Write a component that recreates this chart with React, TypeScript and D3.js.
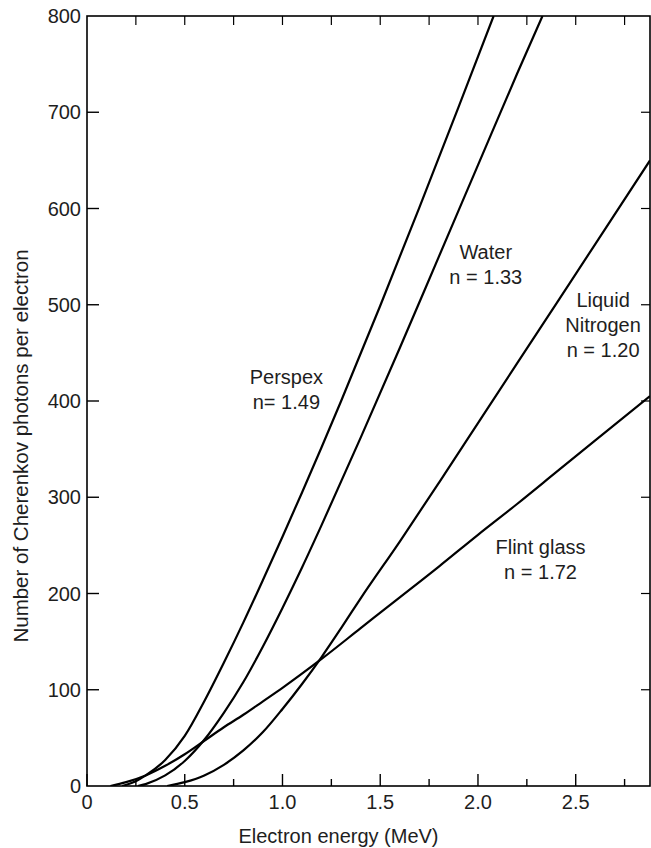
import React from "react";
import * as d3 from "d3";

const W = 651;
const H = 848;

// Curves: electron energy (MeV) vs number of Cherenkov photons per electron
const perspexE = [0.18, 0.25, 0.3, 0.4, 0.5, 0.6, 0.7, 0.8, 0.9, 1.0, 1.1, 1.2, 1.3, 1.5, 1.7, 1.9, 2.08];
const perspexN = [0, 5, 11, 27, 52, 88, 128, 170, 214, 259, 305, 352, 400, 499, 601, 705, 800];

const waterE = [0.26, 0.3, 0.4, 0.5, 0.6, 0.7, 0.8, 0.9, 1.0, 1.1, 1.2, 1.4, 1.6, 1.8, 2.0, 2.2, 2.33];
const waterN = [0, 2, 11, 26, 48, 76, 108, 145, 185, 227, 271, 362, 455, 550, 645, 740, 800];

const nitrogenE = [0.41, 0.5, 0.6, 0.7, 0.8, 0.9, 1.0, 1.1, 1.2, 1.3, 1.4, 1.6, 1.8, 2.0, 2.2, 2.4, 2.6, 2.88];
const nitrogenN = [0, 4, 11, 22, 37, 56, 80, 106, 134, 164, 195, 254, 315, 377, 439, 501, 563, 650];

const flintE = [0.12, 0.2, 0.3, 0.4, 0.5, 0.6, 0.7, 0.8, 0.9, 1.0, 1.2, 1.4, 1.6, 1.8, 2.0, 2.2, 2.4, 2.6, 2.88];
const flintN = [0, 4, 11, 21, 33, 47, 61, 74, 88, 102, 132, 164, 196, 228, 261, 293, 326, 359, 405];

const xMajorTicks = [0, 0.5, 1.0, 1.5, 2.0, 2.5];
const xMinorTicks = [0.25, 0.75, 1.25, 1.75, 2.25, 2.75];
const xTickLabels = ["0", "0.5", "1.0", "1.5", "2.0", "2.5"];
const yTicks = [0, 100, 200, 300, 400, 500, 600, 700, 800];

const curveLabels = [
  { lines: ["Perspex", "n= 1.49"], e: 1.02, n: 418 },
  { lines: ["Water", "n = 1.33"], e: 2.04, n: 548 },
  { lines: ["Liquid", "Nitrogen", "n = 1.20"], e: 2.64, n: 498 },
  { lines: ["Flint glass", "n = 1.72"], e: 2.32, n: 241 },
];

const series = [
  { e: perspexE, n: perspexN },
  { e: waterE, n: waterN },
  { e: nitrogenE, n: nitrogenN },
  { e: flintE, n: flintN },
];

const left = 87;
const right = 650;
const top = 16;
const bottom = 786;

const FONT = "'Liberation Sans', Arial, Helvetica, sans-serif";
const TXT = "#1e1e1e";

export default function App() {
  const x = d3.scaleLinear().domain([0, 2.88]).range([left, right]);
  const y = d3.scaleLinear().domain([0, 800]).range([bottom, top]);

  const line = d3
    .line<[number, number]>()
    .x((d) => x(d[0]))
    .y((d) => y(d[1]))
    .curve(d3.curveMonotoneX);

  return (
    <svg
      width={W}
      height={H}
      style={{ position: "absolute", left: 0, top: 0, background: "#fff" }}
      fontFamily={FONT}
    >
      <rect x={0} y={0} width={W} height={H} fill="#fff" />
      <defs>
        <clipPath id="plot">
          <rect x={left} y={top} width={right - left} height={bottom - top} />
        </clipPath>
      </defs>

      {/* curves */}
      <g clipPath="url(#plot)">
        {series.map((s, i) => (
          <path
            key={i}
            d={line(s.e.map((e, j) => [e, s.n[j]] as [number, number])) || ""}
            fill="none"
            stroke="#000"
            strokeWidth={2.2}
          />
        ))}
      </g>

      {/* frame */}
      <rect
        x={left}
        y={top}
        width={right - left}
        height={bottom - top}
        fill="none"
        stroke="#000"
        strokeWidth={1.6}
      />

      {/* bottom ticks */}
      {xMajorTicks.map((t) => (
        <line key={"bM" + t} x1={x(t)} x2={x(t)} y1={bottom} y2={bottom - 12} stroke="#000" strokeWidth={1.4} />
      ))}
      {xMinorTicks.map((t) => (
        <line key={"bm" + t} x1={x(t)} x2={x(t)} y1={bottom} y2={bottom - 7} stroke="#000" strokeWidth={1.4} />
      ))}
      {/* top ticks */}
      {[...xMajorTicks, ...xMinorTicks]
        .filter((t) => t > 0)
        .map((t) => (
          <line key={"t" + t} x1={x(t)} x2={x(t)} y1={top} y2={top + 9} stroke="#000" strokeWidth={1.2} />
        ))}
      {/* left and right ticks */}
      {yTicks
        .filter((t) => t > 0 && t < 800)
        .map((t) => (
          <g key={"y" + t}>
            <line x1={left} x2={left + 12} y1={y(t)} y2={y(t)} stroke="#000" strokeWidth={1.4} />
            <line x1={right} x2={right - 9} y1={y(t)} y2={y(t)} stroke="#000" strokeWidth={1.2} />
          </g>
        ))}

      {/* y tick labels */}
      {yTicks.map((t) => (
        <text
          key={"yl" + t}
          x={left - 6}
          y={y(t)}
          dy="0.36em"
          textAnchor="end"
          fontSize={20}
          fill={TXT}
        >
          {t}
        </text>
      ))}

      {/* x tick labels */}
      {xMajorTicks.map((t, i) => (
        <text key={"xl" + t} x={x(t)} y={809} textAnchor="middle" fontSize={20} fill={TXT}>
          {xTickLabels[i]}
        </text>
      ))}

      {/* axis titles */}
      <text x={(235 + 442) / 2} y={843} textAnchor="middle" fontSize={20} fill={TXT}>
        Electron energy (MeV)
      </text>
      <text
        transform={`translate(28, 446) rotate(-90)`}
        textAnchor="middle"
        fontSize={20.5}
        fill={TXT}
      >
        Number of Cherenkov photons per electron
      </text>

      {/* curve labels */}
      {curveLabels.map((c, i) => (
        <text key={"cl" + i} x={x(c.e)} y={y(c.n)} textAnchor="middle" fontSize={20} fill={TXT}>
          {c.lines.map((l, j) => (
            <tspan key={j} x={x(c.e)} dy={j === 0 ? 0 : 25}>
              {l}
            </tspan>
          ))}
        </text>
      ))}
    </svg>
  );
}
